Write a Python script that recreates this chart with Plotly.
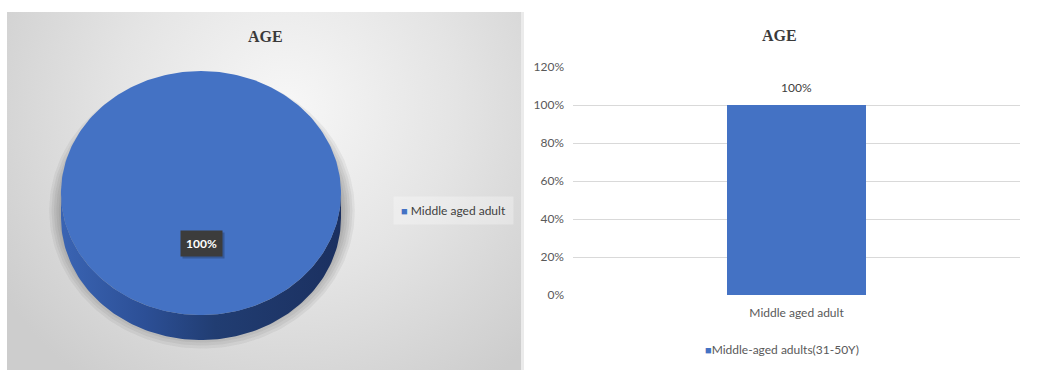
import base64
import numpy as np
import plotly.graph_objects as go

# ---- data ----
pie_labels = ["Middle aged adult"]
pie_values = [100]
bar_categories = ["Middle aged adult"]
bar_values = [1.00]
bar_series_name = "Middle-aged adults(31-50Y)"
chart_title = "AGE"

BLUE = "#4472C4"
W, H = 1037, 370
SANS = "Lato, 'Open Sans', sans-serif"
SERIF = "'Liberation Serif', 'Times New Roman', serif"

# ---- geometry of the 3-D pie panel (pixel units on hidden axes) ----
PANEL_X0, PANEL_X1, PANEL_Y0 = 7, 521, 12
CX, CY, RX, RY, DEPTH = 201, 193, 140, 122, 25


def ellipse_pts(a0, a1, dy=0.0, n=240, rx=RX, ry=RY, cx=CX):
    t = np.radians(np.linspace(a0, a1, max(3, int(n * abs(a1 - a0) / 360))))
    return cx + rx * np.cos(t), CY + dy + ry * np.sin(t)


fig = go.Figure()

# soft drop shadow beneath the pie: stacked translucent ellipses, wider ones fainter
for grow in (16, 13, 10, 7, 4, 1):
    sx, sy = ellipse_pts(0, 360, dy=DEPTH * 0.7, rx=RX + grow * 0.8, ry=RY + grow, cx=CX + 1)
    fig.add_trace(go.Scatter(
        x=sx, y=sy, fill="toself", mode="lines", line=dict(width=0),
        fillcolor="rgba(30,30,30,0.06)", xaxis="x2", yaxis="y2",
        hoverinfo="skip", showlegend=False))

# slices: angles start at 12 o'clock and run clockwise (screen y grows downward)
total = float(sum(pie_values))
cum = 0.0
slices = []
for lab, v in zip(pie_labels, pie_values):
    a0 = -90 + 360 * cum / total
    cum += v
    a1 = -90 + 360 * cum / total
    slices.append((lab, v, a0, a1))

# visible rim (front half of the cylinder wall)
for lab, v, a0, a1 in slices:
    for off in (0, 360, -360):
        lo, hi = max(a0 + off, 0), min(a1 + off, 180)
        if hi > lo:
            tx, ty = ellipse_pts(lo, hi)
            bx, by = ellipse_pts(hi, lo, dy=DEPTH)
            fig.add_trace(go.Scatter(
                x=np.concatenate([tx, bx]), y=np.concatenate([ty, by]),
                fill="toself", mode="lines", line=dict(width=0),
                fillgradient=dict(type="horizontal", colorscale=[
                    [0, "#3a64b3"], [0.3, "#2c4f96"], [0.55, "#213d72"], [1, "#1b3060"]]),
                xaxis="x2", yaxis="y2", hoverinfo="skip", showlegend=False))

# top faces
for lab, v, a0, a1 in slices:
    ex, ey = ellipse_pts(a0, a1)
    if a1 - a0 < 359.999:
        ex = np.concatenate([[CX], ex, [CX]])
        ey = np.concatenate([[CY], ey, [CY]])
    fig.add_trace(go.Scatter(
        x=ex, y=ey, fill="toself", mode="lines", line=dict(width=0),
        fillcolor=BLUE, name=lab, xaxis="x2", yaxis="y2",
        hoverinfo="name", showlegend=False))

ANN = dict(showarrow=False, xanchor="center", yanchor="middle")

# pie data label (with a small shadow box)
pct_text = f"{pie_values[0] / total * 100:.0f}%"
label_y = CY + 0.41 * RY
fig.add_annotation(x=CX + 2, y=label_y + 2, xref="x2", yref="y2", text=f"<b>{pct_text}</b>",
                   bgcolor="rgba(0,0,0,0.22)", borderpad=5,
                   font=dict(family=SANS, size=12, color="rgba(0,0,0,0)"), **ANN)
fig.add_annotation(x=CX, y=label_y, xref="x2", yref="y2", text=f"<b>{pct_text}</b>",
                   bgcolor="#3c3c3c", borderpad=5,
                   font=dict(family=SANS, size=12, color="white"), **ANN)

# pie legend
fig.add_annotation(x=453, y=210.5, xref="x2", yref="y2", width=117, height=25,
                   text=f"<span style='font-size:11px;color:{BLUE}'>■</span> {pie_labels[0]}",
                   bgcolor="rgba(255,255,255,0.3)", align="center",
                   font=dict(family=SANS, size=12, color="#404040"), **ANN)

# pie title
fig.add_annotation(x=265, y=36, xref="x2", yref="y2", text=f"<b>{chart_title}</b>",
                   font=dict(family=SERIF, size=16, color="#3a3a3a"), **ANN)

# ---- bar chart ----
fig.add_trace(go.Bar(x=bar_categories, y=bar_values, name=bar_series_name,
                     marker=dict(color=BLUE, line=dict(width=0)), width=0.313,
                     showlegend=False, xaxis="x", yaxis="y"))
for c, v in zip(bar_categories, bar_values):
    fig.add_annotation(x=c, y=v, xref="x", yref="y", text=f"{v * 100:.0f}%",
                       showarrow=False, xanchor="center", yanchor="bottom", yshift=8,
                       font=dict(family=SANS, size=12, color="#404040"))

fig.add_annotation(x=779 / W, y=1 - 35 / H, xref="paper", yref="paper", text=f"<b>{chart_title}</b>",
                   font=dict(family=SERIF, size=16, color="#3a3a3a"), **ANN)
fig.add_annotation(x=782 / W, y=1 - 349 / H, xref="paper", yref="paper",
                   text=f"<span style='font-size:11px;color:{BLUE}'>■</span>{bar_series_name}",
                   font=dict(family=SANS, size=12, color="#595959"), **ANN)

# ---- background panel for the pie (radial grey shading) ----
pw, ph = PANEL_X1 - PANEL_X0 + 3, H - PANEL_Y0
svg = f"""<svg xmlns="http://www.w3.org/2000/svg" width="{pw}" height="{ph}" viewBox="0 0 {pw} {ph}" preserveAspectRatio="none">
<defs><radialGradient id="g" gradientUnits="userSpaceOnUse" cx="280" cy="95" r="340">
<stop offset="0" stop-color="#f7f7f7"/><stop offset="0.5" stop-color="#e4e4e4"/><stop offset="1" stop-color="#cdcdcd"/>
</radialGradient></defs>
<rect width="{pw - 3}" height="{ph}" fill="url(#g)"/><rect x="{pw - 3}" width="3" height="{ph}" fill="#ebebeb"/></svg>"""
src = "data:image/svg+xml;base64," + base64.b64encode(svg.encode()).decode()
fig.add_layout_image(source=src, xref="paper", yref="paper", x=PANEL_X0 / W, y=1 - PANEL_Y0 / H,
                     sizex=pw / W, sizey=ph / H, xanchor="left", yanchor="top",
                     sizing="stretch", layer="below")

fig.update_layout(
    width=W, height=H, margin=dict(l=0, r=0, t=0, b=0, pad=0, autoexpand=False),
    paper_bgcolor="white", plot_bgcolor="rgba(0,0,0,0)",
    showlegend=False, bargap=0,
    xaxis=dict(domain=[573 / W, 1020 / W], type="category", showgrid=False, showline=False,
               zeroline=False, ticks="", ticklabelstandoff=9, fixedrange=True, automargin=False,
               tickfont=dict(family=SANS, size=12, color="#595959"), anchor="y"),
    yaxis=dict(domain=[(H - 295) / H, (H - 67) / H], range=[0, 1.2], dtick=0.2, tickformat=".0%",
               showgrid=True, gridcolor="#d9d9d9", gridwidth=1.3, zeroline=False, showline=False,
               ticks="", ticklabelstandoff=8, fixedrange=True, automargin=False,
               tickfont=dict(family=SANS, size=12, color="#595959"), anchor="x"),
    xaxis2=dict(domain=[PANEL_X0 / W, PANEL_X1 / W], range=[PANEL_X0, PANEL_X1], visible=False,
                fixedrange=True, anchor="y2", automargin=False),
    yaxis2=dict(domain=[0, (H - PANEL_Y0) / H], range=[H, PANEL_Y0], visible=False,
                fixedrange=True, anchor="x2", automargin=False),
)

fig.write_html("out.html")
